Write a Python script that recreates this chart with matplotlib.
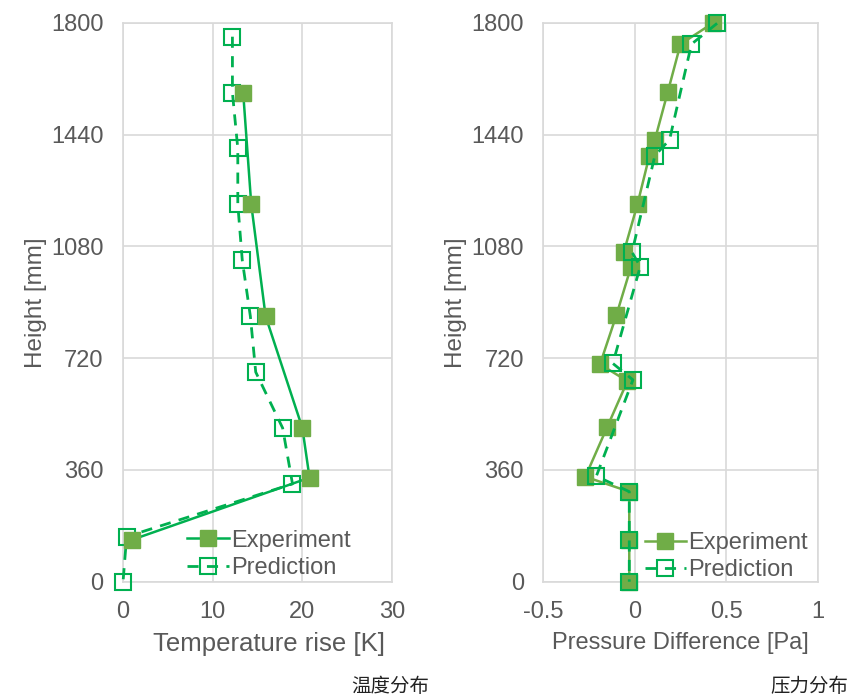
import matplotlib
matplotlib.use('Agg')
import matplotlib.pyplot as plt

plt.rcParams['font.family'] = ['Liberation Sans', 'DejaVu Sans']

# Temperature distribution (left)
temp_exp_h = [1575, 1215, 855, 495, 335, 135]
temp_exp = [13.4, 14.3, 15.9, 20.0, 20.8, 1.0]
temp_pred_h = [1755, 1575, 1395, 1215, 1035, 855, 675, 495, 315, 145, 0]
temp_pred = [12.2, 12.2, 12.8, 12.8, 13.3, 14.2, 14.8, 17.8, 18.9, 0.4, 0.0]

# Pressure distribution (right)
pres_exp_h = [1800, 1731, 1576, 1423, 1372, 1216, 1061, 1015, 859, 700, 646, 499, 338, 290, 134, 0]
pres_exp = [0.43, 0.25, 0.18, 0.11, 0.08, 0.015, -0.06, -0.02, -0.10, -0.19, -0.04, -0.15, -0.27, -0.03, -0.03, -0.03]
pres_pred_h = [1798, 1731, 1423, 1372, 1061, 1015, 703, 650, 340, 290, 134, 0]
pres_pred = [0.45, 0.31, 0.19, 0.11, -0.015, 0.03, -0.12, -0.01, -0.21, -0.03, -0.03, -0.03]

y_ticks = [0, 360, 720, 1080, 1440, 1800]

GREEN = '#00B050'
OLIVE = '#70AD47'
GRID = '#D9D9D9'
TXT = '#595959'

fig = plt.figure(figsize=(8.61, 6.95), dpi=100)
ax1 = fig.add_axes([0.1429, 0.163, 0.3124, 0.8043])
ax2 = fig.add_axes([0.631, 0.163, 0.3187, 0.8043])


def style(ax):
    ax.set_ylim(0, 1800)
    ax.set_yticks(y_ticks)
    ax.grid(True, color=GRID, linewidth=1.2)
    ax.set_axisbelow(True)
    for s in ax.spines.values():
        s.set_color(GRID)
        s.set_linewidth(1.2)
    ax.tick_params(length=0, labelsize=17, labelcolor=TXT, pad=14)
    ax.set_ylabel('Height [mm]', fontsize=17.5, color=TXT, labelpad=3)


leg_kw = dict(loc='lower left', frameon=False, fontsize=17, labelcolor=TXT,
              handlelength=1.75, handletextpad=0.1, labelspacing=0.22, borderpad=0)

# left
ax1.plot(temp_exp, temp_exp_h, '-s', color=GREEN, lw=1.8, ms=11.5,
         mfc=OLIVE, mec=OLIVE, label='Experiment', zorder=4, clip_on=False)
ax1.plot(temp_pred, temp_pred_h, '--s', color=GREEN, lw=2, ms=11, mfc='none',
         mec=GREEN, mew=1.5, dashes=(4, 3), label='Prediction', zorder=3, clip_on=False)
ax1.set_xlim(0, 30)
ax1.set_xticks([0, 10, 20, 30])
style(ax1)
ax1.set_xlabel('Temperature rise [K]', fontsize=18.5, color=TXT)
ax1.xaxis.set_label_coords(0.541, -0.09)
ax1.legend(bbox_to_anchor=(0.195, -0.016), **leg_kw)

# right
ax2.plot(pres_exp, pres_exp_h, '-s', color=OLIVE, lw=1.8, ms=11.5,
         mfc=OLIVE, mec=OLIVE, label='Experiment', zorder=3, clip_on=False)
ax2.plot(pres_pred, pres_pred_h, '--s', color=GREEN, lw=2, ms=11, mfc='none',
         mec=GREEN, mew=1.5, dashes=(4, 3), label='Prediction', zorder=4, clip_on=False)
ax2.set_xlim(-0.5, 1)
ax2.set_xticks([-0.5, 0, 0.5, 1])
ax2.set_xticklabels(['-0.5', '0', '0.5', '1'])
style(ax2)
ax2.set_xlabel('Pressure Difference [Pa]', fontsize=17, color=TXT)
ax2.xaxis.set_label_coords(0.5, -0.09)
ax2.legend(bbox_to_anchor=(0.327, -0.02), **leg_kw)

# captions
cap_font = ['Noto Sans CJK SC', 'DejaVu Sans']
fig.text(390 / 861, 1 - 686 / 695, '温度分布', ha='center', va='center',
         fontsize=14, color='#222222', family=cap_font)
fig.text(809 / 861, 1 - 686 / 695, '压力分布', ha='center', va='center',
         fontsize=14, color='#222222', family=cap_font)

fig.savefig('out.png', dpi=100)
